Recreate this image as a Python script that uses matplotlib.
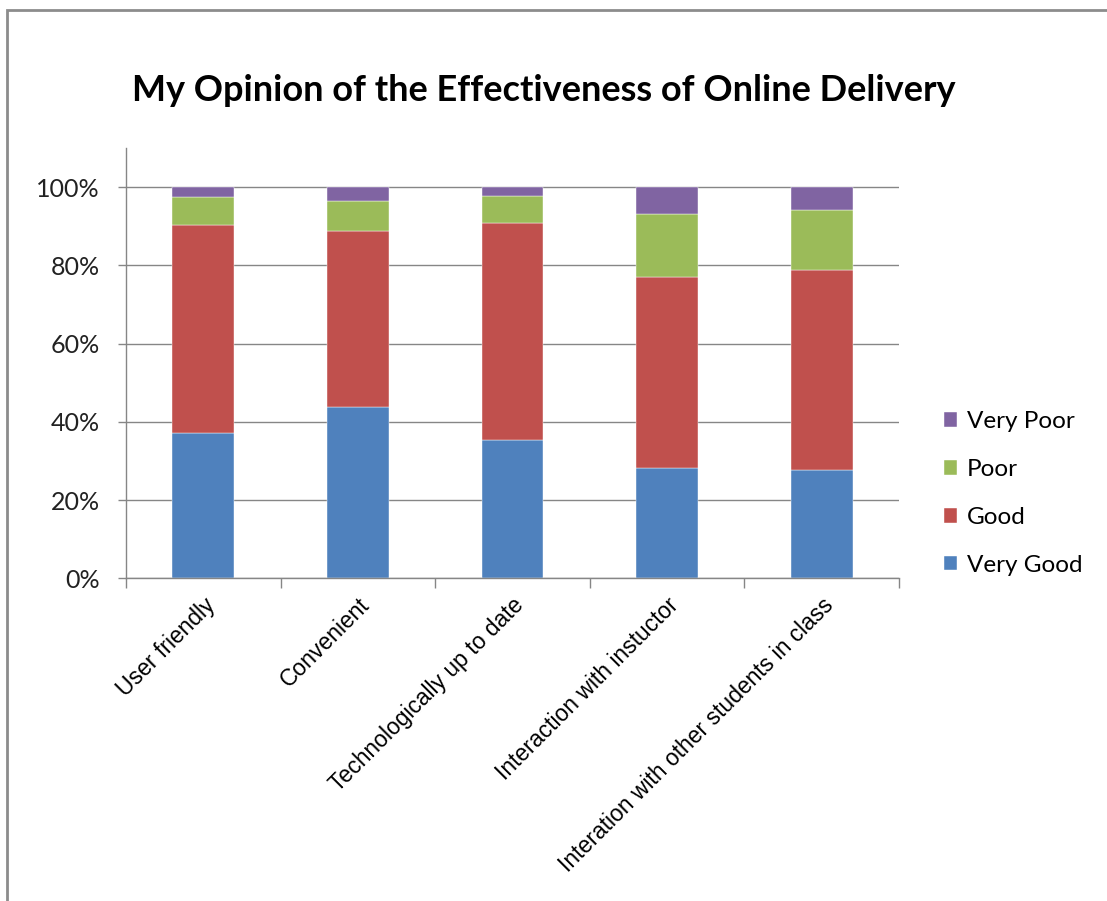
import matplotlib.pyplot as plt
from matplotlib.patches import Rectangle
import numpy as np

categories = [
    "User friendly",
    "Convenient",
    "Technologically up to date",
    "Interaction with instuctor",
    "Interation with other students in class",
]
very_good = [37.1, 43.7, 35.5, 28.2, 27.6]
good = [53.2, 45.2, 55.4, 48.9, 51.2]
poor = [7.1, 7.5, 6.9, 16.0, 15.3]
very_poor = [2.6, 3.6, 2.2, 6.9, 5.9]

series = [
    ("Very Good", very_good, "#4F81BD"),
    ("Good", good, "#C0504D"),
    ("Poor", poor, "#9BBB59"),
    ("Very Poor", very_poor, "#8064A2"),
]

main_font = ["Lato", "DejaVu Sans"]
tick_font = ["Liberation Sans Narrow", "Liberation Sans", "DejaVu Sans"]
grid_grey = "#868686"

fig = plt.figure(figsize=(11.07, 9.01), dpi=100)
ax = fig.add_axes([0.1138, 0.358, 0.6983, 0.4777])

x = np.arange(len(categories))
bottom = np.zeros(len(categories))
handles = []
for name, vals, color in series:
    vals = np.array(vals)
    h = ax.bar(x, vals, width=0.4, bottom=bottom, color=color, label=name,
               edgecolor="white", linewidth=0.3)
    handles.append(h)
    bottom += vals

ax.set_xlim(-0.5, len(categories) - 0.5)
ax.set_ylim(0, 110)
ax.set_yticks(range(0, 101, 20))
ax.set_yticklabels([f"{v}%" for v in range(0, 101, 20)], family=main_font,
                   fontsize=18, color="#222222")
ax.yaxis.grid(True, color=grid_grey, linewidth=1)
ax.set_axisbelow(True)

ax.set_xticks(x)
ax.set_xticklabels(categories, rotation=45, ha="right", rotation_mode="anchor",
                   family=tick_font, fontsize=16.5)
ax.tick_params(axis="x", length=0, pad=11)
ax.set_xticks(np.arange(-0.5, len(categories)), minor=True)
ax.tick_params(axis="x", which="minor", length=7, color=grid_grey, width=1)
ax.tick_params(axis="y", length=6, color=grid_grey, width=1, pad=13)

for side in ("top", "right"):
    ax.spines[side].set_visible(False)
for side in ("left", "bottom"):
    ax.spines[side].set_color(grid_grey)
    ax.spines[side].set_linewidth(1)

fig.text(0.491, 0.9, "My Opinion of the Effectiveness of Online Delivery",
         ha="center", va="center", family=main_font, fontsize=26,
         fontweight="bold")

fig.legend(handles[::-1], [s[0] for s in series][::-1],
           loc="center left", bbox_to_anchor=(0.833, 0.4523),
           frameon=False, prop={"family": main_font, "size": 17.5},
           handlelength=0.55, handleheight=0.55, handletextpad=0.4,
           labelspacing=1.1)

# outer chart frame
fig.patches.append(Rectangle((7 / 1107, -0.1), 1.2, 0.1 + (901 - 10) / 901,
                             transform=fig.transFigure, fill=False,
                             edgecolor="#8c8c8c", linewidth=2))

fig.savefig("out.png", dpi=100)
